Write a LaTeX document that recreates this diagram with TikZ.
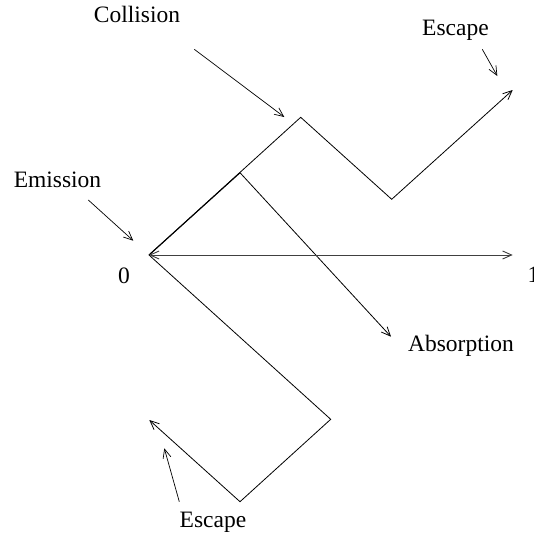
\documentclass[tikz,border=0pt]{standalone}
\usepackage{fontspec}
\setmainfont{Liberation Serif}
\usetikzlibrary{arrows.meta}
\begin{document}
\begin{tikzpicture}[x=1pt,y=-1pt,
  lbl/.style={inner sep=0pt,anchor=base,font=\fontsize{23.5}{28}\selectfont},
  path/.style={line width=0.8pt,line join=miter},
  tip/.style={-{Straight Barb[length=9pt,width=8pt]}},
  pointer/.style={line width=0.7pt,-{Straight Barb[length=9pt,width=8pt]}}]
\useasboundingbox (0,0) rectangle (533,538);
% path corners
\coordinate (O) at (149,255);
\coordinate (B) at (240,172.7);
\coordinate (P) at (300.7,117.3);
\coordinate (V) at (391.7,199.3);
\coordinate (T) at (512.7,90);
\coordinate (A) at (391,336.7);
\coordinate (H) at (512.7,255);
\coordinate (R) at (330.7,419.3);
\coordinate (D) at (240,501.7);
\coordinate (L) at (149.3,420);
% pointer ends
\coordinate (c1) at (194.3,49.3);  \coordinate (c2) at (284.3,117);
\coordinate (e1) at (482.3,49.3);  \coordinate (e2) at (497.3,76);
\coordinate (m1) at (88.3,200);    \coordinate (m2) at (133.3,240.7);
\coordinate (s1) at (179.3,501.7); \coordinate (s2) at (164.3,448.3);
% labels
\node[lbl] (collision) at (137,22) {Collision};
\node[lbl] (escapetop) at (455.5,35) {Escape};
\node[lbl] (emission) at (57.5,187) {Emission};
\node[lbl] (zero) at (124,283) {0};
\node[lbl] (absorption) at (461,351) {Absorption};
\node[lbl] (escapebot) at (213,527) {Escape};
\node[lbl,anchor=base west] (one) at (527.5,282) {1};
% random walk paths
\draw[path,tip] (O) -- (P) -- (V) -- (T);
\draw[path,line width=1.1pt] (O) -- (B);
\draw[path,tip] (B) -- (A);
\draw[path,tip] (O) -- (R) -- (D) -- (L);
\draw[line width=0.9pt,black!75,{Straight Barb[length=9pt,width=8pt]}-{Straight Barb[length=9pt,width=8pt]}] (O) -- (H);
% pointers
\draw[pointer] (c1) -- (c2);
\draw[pointer] (e1) -- (e2);
\draw[pointer] (m1) -- (m2);
\draw[pointer] (s1) -- (s2);
\end{tikzpicture}
\end{document}
